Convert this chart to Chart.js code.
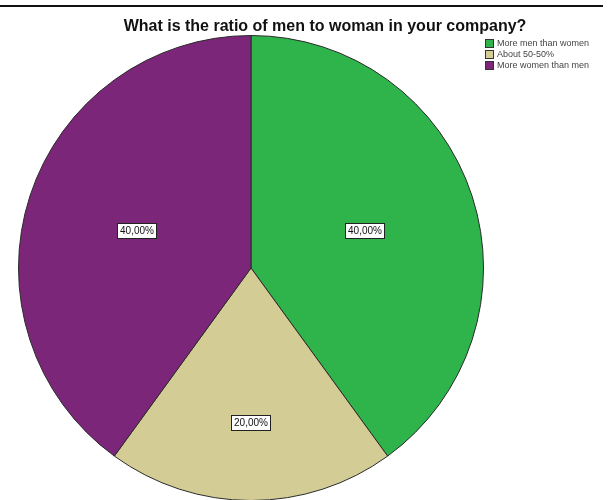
<!DOCTYPE html>
<html>
<head>
<meta charset="utf-8">
<script src="https://cdn.jsdelivr.net/npm/chart.js@4/dist/chart.umd.min.js"></script>
<style>
  html, body { margin: 0; padding: 0; background: #fff; overflow: hidden; }
  #wrap { width: 610px; height: 500px; overflow: hidden; position: relative; }
  canvas { display: block; }
</style>
</head>
<body>
<div id="wrap"><canvas id="c" width="610" height="510"></canvas></div>
<script>
// Survey answers and their share of respondents (percent)
const categories = ['More men than women', 'About 50-50%', 'More women than men'];
const shares = [40, 20, 40];
const chartTitle = 'What is the ratio of men to woman in your company?';

const sliceColors = ['#2eb44b', '#d3cc95', '#7b2679'];

// Percent text in the style "40,00%"
function pctText(v) {
  return v.toFixed(2).replace('.', ',') + '%';
}

// Frame line, title, legend and boxed value labels
const decorations = {
  id: 'decorations',
  afterDraw(chart) {
    const ctx = chart.ctx;
    ctx.save();

    // top rule
    ctx.fillStyle = '#111';
    ctx.fillRect(0, 5, 603, 2);

    // title
    ctx.fillStyle = '#111';
    ctx.font = 'bold 16px "Liberation Sans", Arial, sans-serif';
    ctx.textAlign = 'center';
    ctx.textBaseline = 'middle';
    ctx.fillText(chartTitle, 325, 27);

    // legend
    ctx.font = '9px "Liberation Sans", Arial, sans-serif';
    ctx.textAlign = 'left';
    categories.forEach((name, i) => {
      const y = 39 + i * 11;
      ctx.fillStyle = sliceColors[i];
      ctx.fillRect(485, y, 9, 9);
      ctx.strokeStyle = '#333';
      ctx.lineWidth = 1;
      ctx.strokeRect(485.5, y + 0.5, 8, 8);
      ctx.fillStyle = '#444';
      ctx.fillText(name, 497, y + 5);
    });

    // value labels inside slices
    const meta = chart.getDatasetMeta(0);
    const labelDepth = [0.515, 0.665, 0.515];
    ctx.font = '10px "Liberation Sans", Arial, sans-serif';
    ctx.textAlign = 'center';
    meta.data.forEach((arc, i) => {
      const p = arc.getProps(['x', 'y', 'startAngle', 'endAngle', 'outerRadius'], true);
      const mid = (p.startAngle + p.endAngle) / 2;
      const r = p.outerRadius * labelDepth[i];
      const x = Math.round(p.x + Math.cos(mid) * r);
      const y = Math.round(p.y + Math.sin(mid) * r);
      const txt = pctText(shares[i]);
      const w = Math.ceil(ctx.measureText(txt).width) + 6;
      const h = 16;
      ctx.fillStyle = '#fff';
      ctx.fillRect(x - w / 2, y - h / 2, w, h);
      ctx.strokeStyle = '#222';
      ctx.lineWidth = 1;
      ctx.strokeRect(Math.round(x - w / 2) + 0.5, Math.round(y - h / 2) + 0.5, w - 1, h - 1);
      ctx.fillStyle = '#111';
      ctx.fillText(txt, x, y + 0.5);
    });

    ctx.restore();
  }
};

new Chart(document.getElementById('c'), {
  type: 'pie',
  data: {
    labels: categories,
    datasets: [{
      data: shares,
      backgroundColor: sliceColors,
      borderColor: '#2a2a2a',
      borderWidth: 1
    }]
  },
  options: {
    responsive: false,
    animation: false,
    layout: { padding: { left: 18, right: 126, top: 35, bottom: 9 } },
    plugins: {
      legend: { display: false },
      title: { display: false },
      tooltip: { enabled: false }
    }
  },
  plugins: [decorations]
});
</script>
</body>
</html>
